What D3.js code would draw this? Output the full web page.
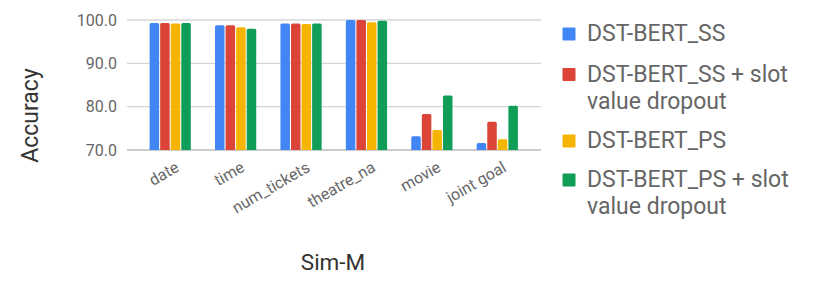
<!DOCTYPE html>
<html><head><meta charset="utf-8">
<script src="https://cdn.jsdelivr.net/npm/d3@7"></script>
<style>body{margin:0;background:#fff;font-family:Roboto,sans-serif}</style>
</head><body><svg id="c" width="830" height="292"></svg>
<script>
const categories = ["date","time","num_tickets","theatre_na","movie","joint goal"];
const seriesNames = [["DST-BERT_SS"],["DST-BERT_SS + slot","value dropout"],["DST-BERT_PS"],["DST-BERT_PS + slot","value dropout"]];
const ss      = [99.3, 98.8, 99.2, 100.0, 73.2, 71.6];
const ssDrop  = [99.3, 98.8, 99.2, 100.0, 78.3, 76.5];
const ps      = [99.2, 98.3, 99.1, 99.5, 74.6, 72.5];
const psDrop  = [99.3, 98.0, 99.2, 99.8, 82.6, 80.2];
const yTicks  = [70, 80, 90, 100];
const colors = ["#4285F4","#DB4437","#F4B400","#0F9D58"];
const series = [ss, ssDrop, ps, psDrop];

const svg = d3.select("#c");
const y = d3.scaleLinear().domain([70,100]).range([150,20]);
const x = d3.scaleBand().domain(categories).range([137.5,530]).paddingInner(0.37).paddingOuter(0.185);
const xs = d3.scaleBand().domain(d3.range(4)).range([0, x.bandwidth()]).paddingInner(0.1);

// grid
svg.append("g").selectAll("line").data(yTicks).join("line")
  .attr("x1",127).attr("x2",541).attr("y1",d=>y(d)).attr("y2",d=>y(d))
  .attr("stroke",d=>d===70?"#bbb":"#d6d6d6").attr("stroke-width",1.3);
svg.append("g").selectAll("text").data(yTicks).join("text")
  .attr("x",117).attr("y",d=>y(d)+5.7).attr("text-anchor","end")
  .attr("fill","#666").attr("font-size",16).text(d=>d.toFixed(1));

// bars
const bw = xs.bandwidth();
series.forEach((s,i)=>{
  svg.append("g").selectAll("path").data(s).join("path")
    .attr("fill",colors[i])
    .attr("d",(d,j)=>{
      const x0 = x(categories[j])+xs(i), y0=y(d), h=y(70)-y0, r=1.5;
      return `M${x0},${y0+h}V${y0+r}Q${x0},${y0} ${x0+r},${y0}H${x0+bw-r}Q${x0+bw},${y0} ${x0+bw},${y0+r}V${y0+h}Z`;
    });
});

// x labels
svg.append("g").selectAll("text").data(categories).join("text")
  .attr("text-anchor","end").attr("fill","#666").attr("font-size",16)
  .attr("transform",d=>`translate(${x(d)+x.bandwidth()/2+10},${170.5}) rotate(-30)`)
  .text(d=>d);

// axis titles
svg.append("text").attr("transform","translate(38,115.5) rotate(-90)")
  .attr("text-anchor","middle").attr("font-size",23).attr("fill","#333").text("Accuracy");
svg.append("text").attr("x",333).attr("y",270).attr("text-anchor","middle")
  .attr("font-size",22.5).attr("fill","#333").text("Sim-M");

// legend
const legY = [34, 74.5, 141, 180];
seriesNames.forEach((n,i)=>{
  svg.append("rect").attr("x",562.5).attr("y",legY[i]-6.5).attr("width",13).attr("height",13)
    .attr("rx",1).attr("fill",colors[i]);
  n.forEach((t,k)=>{
    svg.append("text").attr("x",587).attr("y",legY[i]+7+k*27).attr("font-size",23)
      .attr("fill","#666").text(t);
  });
});
</script></body></html>
